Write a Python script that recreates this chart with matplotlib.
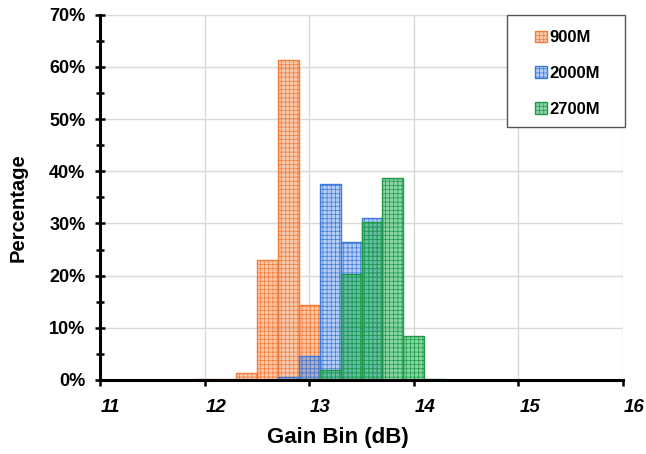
import matplotlib
matplotlib.use("Agg")
import matplotlib.pyplot as plt
from matplotlib.patches import Rectangle
from matplotlib.ticker import MultipleLocator, FuncFormatter
import matplotlib.transforms as mtransforms

# ---- data ----
bin_centers = [12.0, 12.2, 12.4, 12.6, 12.8, 13.0, 13.2, 13.4, 13.6, 13.8, 14.0, 14.2]
pct_900M = [0.1, 0.1, 1.3, 22.9, 61.3, 14.3, 0.0, 0.0, 0.0, 0.0, 0.0, 0.0]
pct_2000M = [0.0, 0.0, 0.0, 0.0, 0.6, 4.6, 37.5, 26.4, 31.0, 0.0, 0.0, 0.0]
pct_2700M = [0.0, 0.0, 0.0, 0.0, 0.0, 0.2, 1.9, 20.4, 30.3, 38.8, 8.5, 0.1]
series_names = ["900M", "2000M", "2700M"]
x_ticks = [11, 12, 13, 14, 15, 16]
y_ticks = [0, 10, 20, 30, 40, 50, 60, 70]

plt.rcParams['font.family'] = ['Liberation Sans', 'DejaVu Sans']
plt.rcParams['hatch.linewidth'] = 0.5

fig = plt.figure(figsize=(6.46, 4.54), dpi=100)
ax = fig.add_axes([100/646, 1-380/454, 523/646, 365.3/454])

styles = [
    dict(face=(0.96, 0.50, 0.23, 0.42), edge='#F47A36'),
    dict(face=(0.31, 0.53, 0.91, 0.42), edge='#3C7BD9'),
    dict(face=(0.16, 0.70, 0.36, 0.55), edge='#1E9A48'),
]
handles = []
for name, vals, st in zip(series_names, [pct_900M, pct_2000M, pct_2700M], styles):
    b = ax.bar(bin_centers, vals, width=0.2, facecolor=st['face'], edgecolor=st['edge'],
               linewidth=1.0, hatch='++++', label=name, zorder=2)
    handles.append(b)

ax.set_xlim(11, 16)
ax.set_ylim(0, 70)
ax.set_axisbelow(True)
ax.grid(True, which='major', color='#D9D9D9', linewidth=1.0)

for s in ['top', 'right']:
    ax.spines[s].set_visible(False)
for s in ['left', 'bottom']:
    ax.spines[s].set_linewidth(2.2)

ax.set_xticks(x_ticks)
ax.set_xticklabels([str(t) for t in x_ticks], fontsize=13.5, fontweight='bold', fontstyle='italic')
ax.set_yticks(y_ticks)
ax.yaxis.set_major_formatter(FuncFormatter(lambda v, p: f"{int(v)}%"))
ax.yaxis.set_minor_locator(MultipleLocator(5))
ax.tick_params(axis='y', which='major', direction='inout', length=7, width=1.8, labelsize=13, pad=7)
ax.tick_params(axis='y', which='minor', direction='inout', length=6, width=1.8)
ax.tick_params(axis='x', which='major', direction='out', length=4, width=1.8, pad=10)
for lab in ax.get_yticklabels():
    lab.set_fontweight('bold')
offset = mtransforms.ScaledTranslation(1/100, 0, fig.dpi_scale_trans)
for lab in ax.get_xticklabels():
    lab.set_horizontalalignment('left')
    lab.set_transform(lab.get_transform() + offset)

ax.set_xlabel("Gain Bin (dB)", fontsize=16, fontweight='bold')
ax.xaxis.set_label_coords(0.455, -0.13)
ax.set_ylabel("Percentage", fontsize=14.5, fontweight='bold')
ax.yaxis.label.set_va('center')
ax.yaxis.set_label_coords(-0.156, 0.472)

# legend frame
frame = Rectangle((0.778, 0.693), 0.226, 0.306, transform=ax.transAxes, facecolor='white',
                  edgecolor='#555555', linewidth=1.0, clip_on=False, zorder=4.5)
ax.add_patch(frame)
leg = ax.legend(handles=handles, loc='upper left', bbox_to_anchor=(0.80, 1.003),
                frameon=False, prop={'weight': 'bold', 'size': 12},
                handlelength=0.7, handleheight=0.7, handletextpad=0.15, labelspacing=1.25,
                borderpad=0.5)
leg.set_zorder(5)

fig.savefig("out.png", dpi=100)
